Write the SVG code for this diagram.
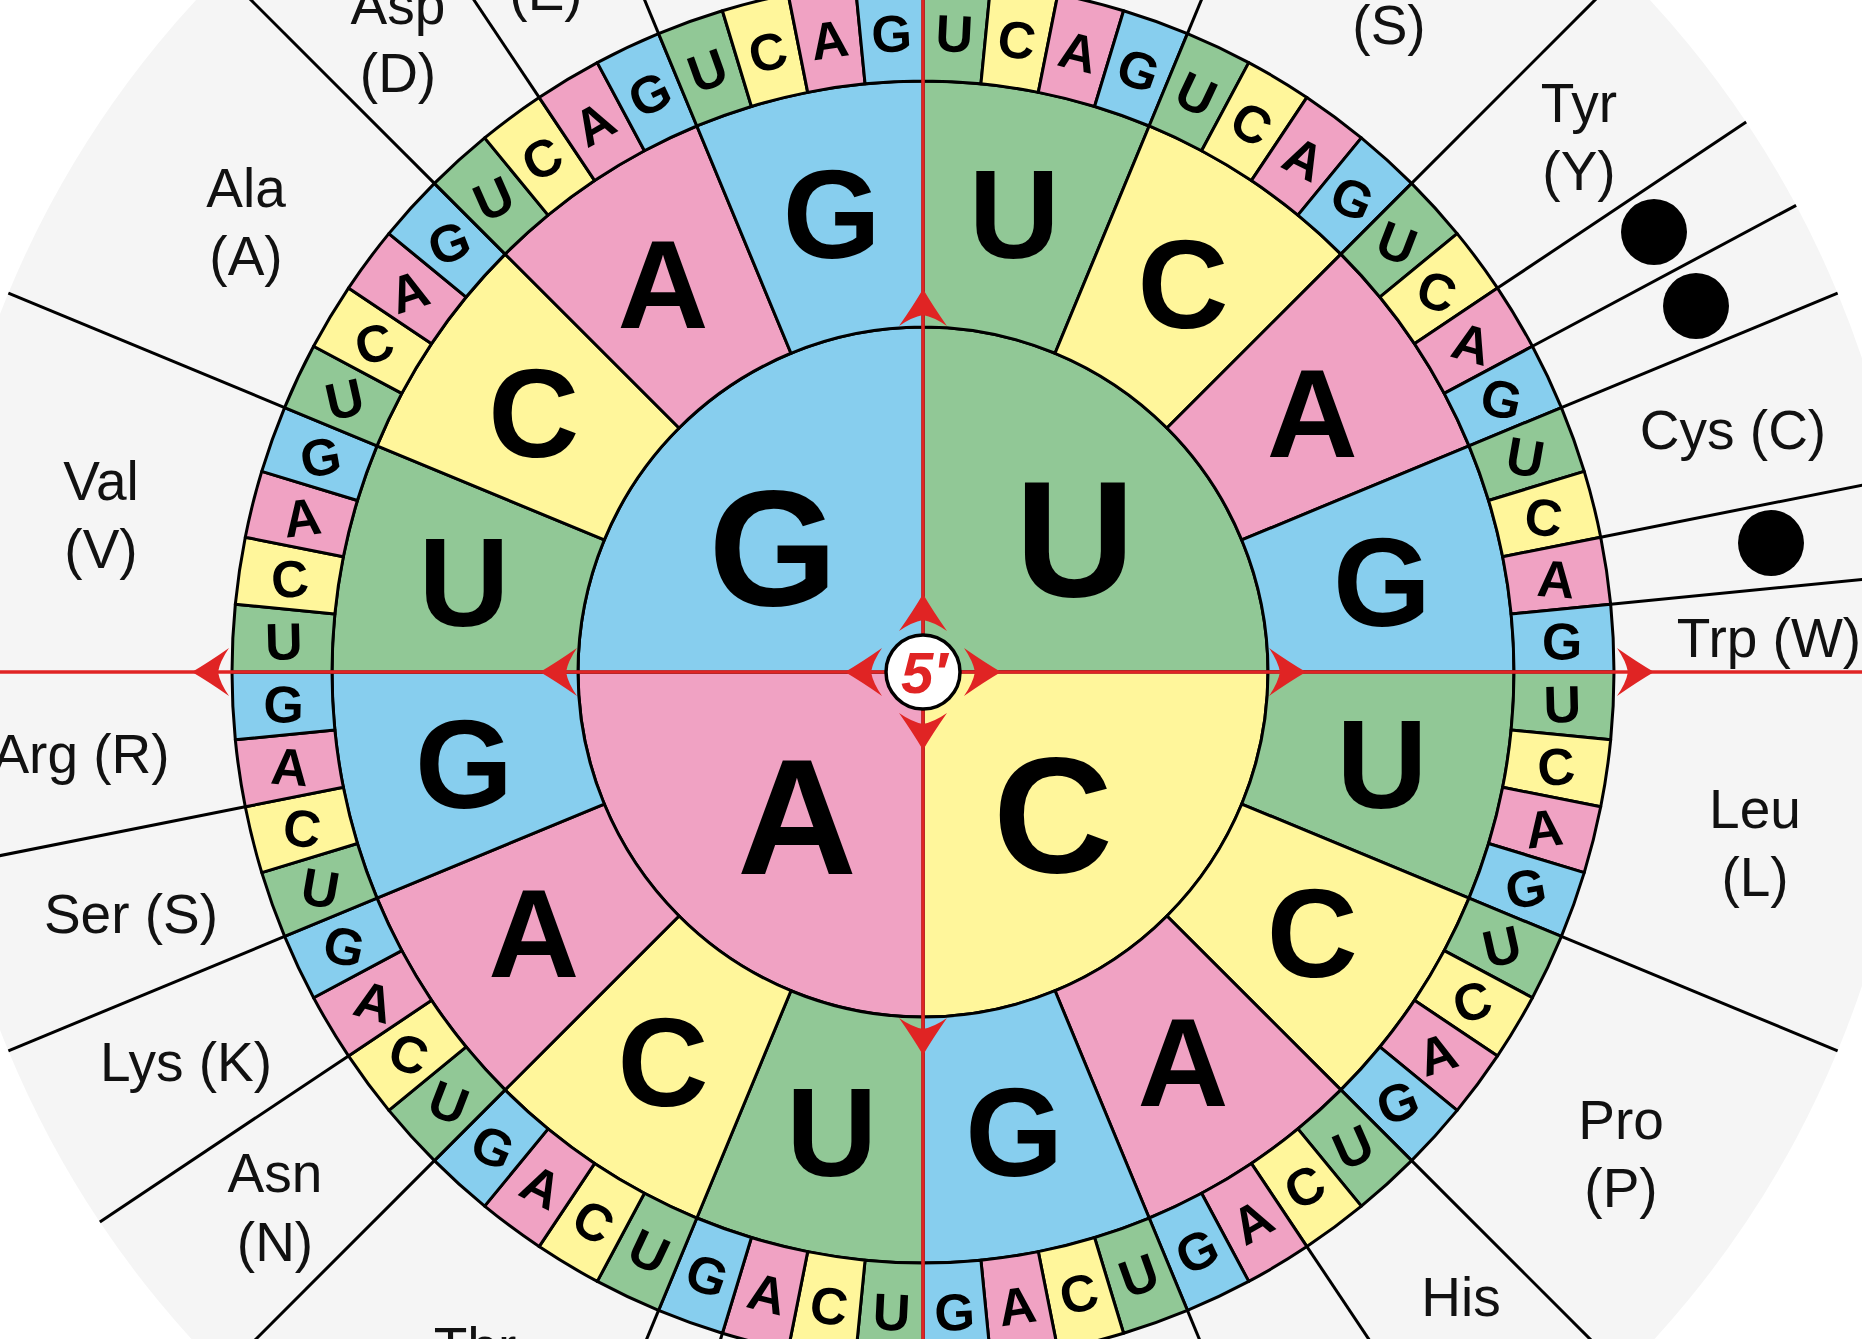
<svg xmlns="http://www.w3.org/2000/svg" width="1862" height="1339" viewBox="0 0 1862 1339">
<defs>
<style>
.u{fill:#91c896}.c{fill:#fff69b}.a{fill:#f0a2c3}.g{fill:#87ceee}
.cell{stroke:#000;stroke-width:3;stroke-linejoin:round}
.o{font-family:"Liberation Sans",Arial,sans-serif;font-weight:bold;font-size:52px;text-anchor:middle;fill:#000}
.m{font-family:"Liberation Sans",Arial,sans-serif;font-weight:bold;font-size:126px;text-anchor:middle;fill:#000}
.i{font-family:"Liberation Sans",Arial,sans-serif;font-weight:bold;font-size:166px;text-anchor:middle;fill:#000}
.lab{font-family:"Liberation Sans",Arial,sans-serif;font-size:55px;text-anchor:middle;fill:#111}
.spoke{stroke:#000;stroke-width:3}
.red{stroke:#e02424;stroke-width:3.5;fill:none}
.arrow{fill:#e02424}
</style>
<path id="q" d="M0,0 L0,-345 A345,345 0 0 1 345,0 Z"/>
<path id="w2" d="M0,-591 A591,591 0 0 1 226.17,-546.01 L132.03,-318.74 A345,345 0 0 0 0,-345 Z"/>
<path id="w3" d="M0,-691 A691,691 0 0 1 67.73,-687.67 L57.93,-588.15 A591,591 0 0 0 0,-591 Z"/>
<line id="sp" x1="0" y1="-691" x2="0" y2="-990"/>
<path id="arr" d="M0,0 Q10,17 24,37 Q11,28 0,26 Q-11,28 -24,37 Q-10,17 0,0 Z"/>
</defs>
<rect width="1862" height="1339" fill="#fff"/>
<circle cx="923" cy="672" r="990" fill="#f5f5f5"/>
<g transform="translate(923,672)">
<g id="spokes" class="spoke">
<use href="#sp" transform="rotate(22.5)"/><use href="#sp" transform="rotate(45)"/><use href="#sp" transform="rotate(56.25)"/><use href="#sp" transform="rotate(61.875)"/><use href="#sp" transform="rotate(67.5)"/><use href="#sp" transform="rotate(78.75)"/><use href="#sp" transform="rotate(84.375)"/><use href="#sp" transform="rotate(112.5)"/><use href="#sp" transform="rotate(135)"/><use href="#sp" transform="rotate(146.25)"/><use href="#sp" transform="rotate(157.5)"/><use href="#sp" transform="rotate(196.875)"/><use href="#sp" transform="rotate(202.5)"/><use href="#sp" transform="rotate(225)"/><use href="#sp" transform="rotate(236.25)"/><use href="#sp" transform="rotate(247.5)"/><use href="#sp" transform="rotate(258.75)"/><use href="#sp" transform="rotate(292.5)"/><use href="#sp" transform="rotate(315)"/><use href="#sp" transform="rotate(326.25)"/><use href="#sp" transform="rotate(337.5)"/>
</g>
<g id="ring-first-base">
<use href="#q" class="cell u"/><use href="#q" class="cell c" transform="rotate(90)"/><use href="#q" class="cell a" transform="rotate(180)"/><use href="#q" class="cell g" transform="rotate(270)"/>
</g>
<g id="ring-second-base">
<use href="#w2" class="cell u"/><use href="#w2" class="cell c" transform="rotate(22.5)"/><use href="#w2" class="cell a" transform="rotate(45)"/><use href="#w2" class="cell g" transform="rotate(67.5)"/>
<use href="#w2" class="cell u" transform="rotate(90)"/><use href="#w2" class="cell c" transform="rotate(112.5)"/><use href="#w2" class="cell a" transform="rotate(135)"/><use href="#w2" class="cell g" transform="rotate(157.5)"/>
<use href="#w2" class="cell u" transform="rotate(180)"/><use href="#w2" class="cell c" transform="rotate(202.5)"/><use href="#w2" class="cell a" transform="rotate(225)"/><use href="#w2" class="cell g" transform="rotate(247.5)"/>
<use href="#w2" class="cell u" transform="rotate(270)"/><use href="#w2" class="cell c" transform="rotate(292.5)"/><use href="#w2" class="cell a" transform="rotate(315)"/><use href="#w2" class="cell g" transform="rotate(337.5)"/>
</g>
<g id="ring-third-base">
<use href="#w3" class="cell u"/><use href="#w3" class="cell c" transform="rotate(5.625)"/><use href="#w3" class="cell a" transform="rotate(11.25)"/><use href="#w3" class="cell g" transform="rotate(16.875)"/>
<use href="#w3" class="cell u" transform="rotate(22.5)"/><use href="#w3" class="cell c" transform="rotate(28.125)"/><use href="#w3" class="cell a" transform="rotate(33.75)"/><use href="#w3" class="cell g" transform="rotate(39.375)"/>
<use href="#w3" class="cell u" transform="rotate(45)"/><use href="#w3" class="cell c" transform="rotate(50.625)"/><use href="#w3" class="cell a" transform="rotate(56.25)"/><use href="#w3" class="cell g" transform="rotate(61.875)"/>
<use href="#w3" class="cell u" transform="rotate(67.5)"/><use href="#w3" class="cell c" transform="rotate(73.125)"/><use href="#w3" class="cell a" transform="rotate(78.75)"/><use href="#w3" class="cell g" transform="rotate(84.375)"/>
<use href="#w3" class="cell u" transform="rotate(90)"/><use href="#w3" class="cell c" transform="rotate(95.625)"/><use href="#w3" class="cell a" transform="rotate(101.25)"/><use href="#w3" class="cell g" transform="rotate(106.875)"/>
<use href="#w3" class="cell u" transform="rotate(112.5)"/><use href="#w3" class="cell c" transform="rotate(118.125)"/><use href="#w3" class="cell a" transform="rotate(123.75)"/><use href="#w3" class="cell g" transform="rotate(129.375)"/>
<use href="#w3" class="cell u" transform="rotate(135)"/><use href="#w3" class="cell c" transform="rotate(140.625)"/><use href="#w3" class="cell a" transform="rotate(146.25)"/><use href="#w3" class="cell g" transform="rotate(151.875)"/>
<use href="#w3" class="cell u" transform="rotate(157.5)"/><use href="#w3" class="cell c" transform="rotate(163.125)"/><use href="#w3" class="cell a" transform="rotate(168.75)"/><use href="#w3" class="cell g" transform="rotate(174.375)"/>
<use href="#w3" class="cell u" transform="rotate(180)"/><use href="#w3" class="cell c" transform="rotate(185.625)"/><use href="#w3" class="cell a" transform="rotate(191.25)"/><use href="#w3" class="cell g" transform="rotate(196.875)"/>
<use href="#w3" class="cell u" transform="rotate(202.5)"/><use href="#w3" class="cell c" transform="rotate(208.125)"/><use href="#w3" class="cell a" transform="rotate(213.75)"/><use href="#w3" class="cell g" transform="rotate(219.375)"/>
<use href="#w3" class="cell u" transform="rotate(225)"/><use href="#w3" class="cell c" transform="rotate(230.625)"/><use href="#w3" class="cell a" transform="rotate(236.25)"/><use href="#w3" class="cell g" transform="rotate(241.875)"/>
<use href="#w3" class="cell u" transform="rotate(247.5)"/><use href="#w3" class="cell c" transform="rotate(253.125)"/><use href="#w3" class="cell a" transform="rotate(258.75)"/><use href="#w3" class="cell g" transform="rotate(264.375)"/>
<use href="#w3" class="cell u" transform="rotate(270)"/><use href="#w3" class="cell c" transform="rotate(275.625)"/><use href="#w3" class="cell a" transform="rotate(281.25)"/><use href="#w3" class="cell g" transform="rotate(286.875)"/>
<use href="#w3" class="cell u" transform="rotate(292.5)"/><use href="#w3" class="cell c" transform="rotate(298.125)"/><use href="#w3" class="cell a" transform="rotate(303.75)"/><use href="#w3" class="cell g" transform="rotate(309.375)"/>
<use href="#w3" class="cell u" transform="rotate(315)"/><use href="#w3" class="cell c" transform="rotate(320.625)"/><use href="#w3" class="cell a" transform="rotate(326.25)"/><use href="#w3" class="cell g" transform="rotate(331.875)"/>
<use href="#w3" class="cell u" transform="rotate(337.5)"/><use href="#w3" class="cell c" transform="rotate(343.125)"/><use href="#w3" class="cell a" transform="rotate(348.75)"/><use href="#w3" class="cell g" transform="rotate(354.375)"/>
</g>
<g id="axes">
<line class="red" x1="-923" y1="0" x2="939" y2="0"/>
<line class="red" x1="0" y1="-672" x2="0" y2="667"/>
<g class="arrow">
<use href="#arr" transform="translate(0,-78)"/><use href="#arr" transform="rotate(90) translate(0,-78)"/><use href="#arr" transform="rotate(180) translate(0,-78)"/><use href="#arr" transform="rotate(270) translate(0,-78)"/>
<use href="#arr" transform="translate(0,-383)"/><use href="#arr" transform="rotate(90) translate(0,-383)"/><use href="#arr" transform="rotate(180) translate(0,-383)"/><use href="#arr" transform="rotate(270) translate(0,-383)"/>
<use href="#arr" transform="rotate(90) translate(0,-731)"/><use href="#arr" transform="rotate(270) translate(0,-731)"/>
</g>
</g>
<g id="letters-first-base" class="i">
<text x="-150" y="-67">G</text><text x="152" y="-76">U</text><text x="-126" y="202">A</text><text x="130" y="200">C</text>
</g>
<g id="letters-second-base" class="m">
<g transform="rotate(11.25) translate(0,-468) rotate(-11.25)"><text y="45">U</text></g>
<g transform="rotate(33.75) translate(0,-468) rotate(-33.75)"><text y="45">C</text></g>
<g transform="rotate(56.25) translate(0,-468) rotate(-56.25)"><text y="45">A</text></g>
<g transform="rotate(78.75) translate(0,-468) rotate(-78.75)"><text y="45">G</text></g>
<g transform="rotate(101.25) translate(0,-468) rotate(-101.25)"><text y="45">U</text></g>
<g transform="rotate(123.75) translate(0,-468) rotate(-123.75)"><text y="45">C</text></g>
<g transform="rotate(146.25) translate(0,-468) rotate(-146.25)"><text y="45">A</text></g>
<g transform="rotate(168.75) translate(0,-468) rotate(-168.75)"><text y="45">G</text></g>
<g transform="rotate(191.25) translate(0,-468) rotate(-191.25)"><text y="45">U</text></g>
<g transform="rotate(213.75) translate(0,-468) rotate(-213.75)"><text y="45">C</text></g>
<g transform="rotate(236.25) translate(0,-468) rotate(-236.25)"><text y="45">A</text></g>
<g transform="rotate(258.75) translate(0,-468) rotate(-258.75)"><text y="45">G</text></g>
<g transform="rotate(281.25) translate(0,-468) rotate(-281.25)"><text y="45">U</text></g>
<g transform="rotate(303.75) translate(0,-468) rotate(-303.75)"><text y="45">C</text></g>
<g transform="rotate(326.25) translate(0,-468) rotate(-326.25)"><text y="45">A</text></g>
<g transform="rotate(348.75) translate(0,-468) rotate(-348.75)"><text y="45">G</text></g>
</g>
<g id="letters-third-base" class="o">
<g transform="rotate(2.8125) translate(0,-640)"><text y="19">U</text></g>
<g transform="rotate(8.4375) translate(0,-640)"><text y="19">C</text></g>
<g transform="rotate(14.0625) translate(0,-640)"><text y="19">A</text></g>
<g transform="rotate(19.6875) translate(0,-640)"><text y="19">G</text></g>
<g transform="rotate(25.3125) translate(0,-640)"><text y="19">U</text></g>
<g transform="rotate(30.9375) translate(0,-640) rotate(-1.41)"><text y="19">C</text></g>
<g transform="rotate(36.5625) translate(0,-640) rotate(-9.84)"><text y="19">A</text></g>
<g transform="rotate(42.1875) translate(0,-640) rotate(-18.28)"><text y="19">G</text></g>
<g transform="rotate(47.8125) translate(0,-640) rotate(-26.72)"><text y="19">U</text></g>
<g transform="rotate(53.4375) translate(0,-640) rotate(-35.16)"><text y="19">C</text></g>
<g transform="rotate(59.0625) translate(0,-640) rotate(-43.59)"><text y="19">A</text></g>
<g transform="rotate(64.6875) translate(0,-640) rotate(-52.03)"><text y="19">G</text></g>
<g transform="rotate(70.3125) translate(0,-640) rotate(-60.47)"><text y="19">U</text></g>
<g transform="rotate(75.9375) translate(0,-640) rotate(-68.91)"><text y="19">C</text></g>
<g transform="rotate(81.5625) translate(0,-640) rotate(-77.34)"><text y="19">A</text></g>
<g transform="rotate(87.1875) translate(0,-640) rotate(-85.78)"><text y="19">G</text></g>
<g transform="rotate(92.8125) translate(0,-640) rotate(-94.22)"><text y="19">U</text></g>
<g transform="rotate(98.4375) translate(0,-640) rotate(-102.66)"><text y="19">C</text></g>
<g transform="rotate(104.0625) translate(0,-640) rotate(-111.09)"><text y="19">A</text></g>
<g transform="rotate(109.6875) translate(0,-640) rotate(-119.53)"><text y="19">G</text></g>
<g transform="rotate(115.3125) translate(0,-640) rotate(-127.97)"><text y="19">U</text></g>
<g transform="rotate(120.9375) translate(0,-640) rotate(-136.41)"><text y="19">C</text></g>
<g transform="rotate(126.5625) translate(0,-640) rotate(-144.84)"><text y="19">A</text></g>
<g transform="rotate(132.1875) translate(0,-640) rotate(-153.28)"><text y="19">G</text></g>
<g transform="rotate(137.8125) translate(0,-640) rotate(-161.72)"><text y="19">U</text></g>
<g transform="rotate(143.4375) translate(0,-640) rotate(-170.16)"><text y="19">C</text></g>
<g transform="rotate(149.0625) translate(0,-640) rotate(-178.59)"><text y="19">A</text></g>
<g transform="rotate(154.6875) translate(0,-640) rotate(180)"><text y="19">G</text></g>
<g transform="rotate(160.3125) translate(0,-640) rotate(180)"><text y="19">U</text></g>
<g transform="rotate(165.9375) translate(0,-640) rotate(180)"><text y="19">C</text></g>
<g transform="rotate(171.5625) translate(0,-640) rotate(180)"><text y="19">A</text></g>
<g transform="rotate(177.1875) translate(0,-640) rotate(180)"><text y="19">G</text></g>
<g transform="rotate(182.8125) translate(0,-640) rotate(180)"><text y="19">U</text></g>
<g transform="rotate(188.4375) translate(0,-640) rotate(180)"><text y="19">C</text></g>
<g transform="rotate(194.0625) translate(0,-640) rotate(180)"><text y="19">A</text></g>
<g transform="rotate(199.6875) translate(0,-640) rotate(180)"><text y="19">G</text></g>
<g transform="rotate(205.3125) translate(0,-640) rotate(180)"><text y="19">U</text></g>
<g transform="rotate(210.9375) translate(0,-640) rotate(178.59)"><text y="19">C</text></g>
<g transform="rotate(216.5625) translate(0,-640) rotate(170.16)"><text y="19">A</text></g>
<g transform="rotate(222.1875) translate(0,-640) rotate(161.72)"><text y="19">G</text></g>
<g transform="rotate(227.8125) translate(0,-640) rotate(153.28)"><text y="19">U</text></g>
<g transform="rotate(233.4375) translate(0,-640) rotate(144.84)"><text y="19">C</text></g>
<g transform="rotate(239.0625) translate(0,-640) rotate(136.41)"><text y="19">A</text></g>
<g transform="rotate(244.6875) translate(0,-640) rotate(127.97)"><text y="19">G</text></g>
<g transform="rotate(250.3125) translate(0,-640) rotate(119.53)"><text y="19">U</text></g>
<g transform="rotate(255.9375) translate(0,-640) rotate(111.09)"><text y="19">C</text></g>
<g transform="rotate(261.5625) translate(0,-640) rotate(102.66)"><text y="19">A</text></g>
<g transform="rotate(267.1875) translate(0,-640) rotate(94.22)"><text y="19">G</text></g>
<g transform="rotate(272.8125) translate(0,-640) rotate(85.78)"><text y="19">U</text></g>
<g transform="rotate(278.4375) translate(0,-640) rotate(77.34)"><text y="19">C</text></g>
<g transform="rotate(284.0625) translate(0,-640) rotate(68.91)"><text y="19">A</text></g>
<g transform="rotate(289.6875) translate(0,-640) rotate(60.47)"><text y="19">G</text></g>
<g transform="rotate(295.3125) translate(0,-640) rotate(52.03)"><text y="19">U</text></g>
<g transform="rotate(300.9375) translate(0,-640) rotate(43.59)"><text y="19">C</text></g>
<g transform="rotate(306.5625) translate(0,-640) rotate(35.16)"><text y="19">A</text></g>
<g transform="rotate(312.1875) translate(0,-640) rotate(26.72)"><text y="19">G</text></g>
<g transform="rotate(317.8125) translate(0,-640) rotate(18.28)"><text y="19">U</text></g>
<g transform="rotate(323.4375) translate(0,-640) rotate(9.84)"><text y="19">C</text></g>
<g transform="rotate(329.0625) translate(0,-640) rotate(1.41)"><text y="19">A</text></g>
<g transform="rotate(334.6875) translate(0,-640)"><text y="19">G</text></g>
<g transform="rotate(340.3125) translate(0,-640)"><text y="19">U</text></g>
<g transform="rotate(345.9375) translate(0,-640)"><text y="19">C</text></g>
<g transform="rotate(351.5625) translate(0,-640)"><text y="19">A</text></g>
<g transform="rotate(357.1875) translate(0,-640)"><text y="19">G</text></g>
</g>
<g id="five-prime">
<circle r="37" fill="#fff" stroke="#000" stroke-width="3.5"/>
<text x="1" y="21" font-family="Liberation Sans, Arial, sans-serif" font-weight="bold" font-style="italic" font-size="58" text-anchor="middle" fill="#e02424">5′</text>
</g>
</g>
<g id="labels" class="lab">
<g id="lab-asp"><text x="398" y="24">Asp</text><text x="398" y="92">(D)</text></g>
<g id="lab-glu"><text x="546" y="10">(E)</text></g>
<g id="lab-ser-uc"><text x="1389" y="44">(S)</text></g>
<g id="lab-tyr"><text x="1579" y="122">Tyr</text><text x="1579" y="190">(Y)</text></g>
<g id="stop-uaa"><circle cx="1654" cy="232" r="33" fill="#000"/></g>
<g id="stop-uag"><circle cx="1696" cy="306" r="33" fill="#000"/></g>
<g id="lab-cys"><text x="1733" y="449">Cys (C)</text></g>
<g id="stop-uga"><circle cx="1771" cy="543" r="33" fill="#000"/></g>
<g id="lab-trp"><text x="1769" y="657">Trp (W)</text></g>
<g id="lab-leu"><text x="1755" y="828">Leu</text><text x="1755" y="896">(L)</text></g>
<g id="lab-pro"><text x="1621" y="1139">Pro</text><text x="1621" y="1207">(P)</text></g>
<g id="lab-his"><text x="1461" y="1316">His</text></g>
<g id="lab-thr"><text x="475" y="1366">Thr</text></g>
<g id="lab-asn"><text x="275" y="1192">Asn</text><text x="275" y="1261">(N)</text></g>
<g id="lab-lys"><text x="186" y="1081">Lys (K)</text></g>
<g id="lab-ser-ag"><text x="131" y="933">Ser (S)</text></g>
<g id="lab-arg"><text x="81" y="773">Arg (R)</text></g>
<g id="lab-val"><text x="101" y="500">Val</text><text x="101" y="568">(V)</text></g>
<g id="lab-ala"><text x="246" y="207">Ala</text><text x="246" y="275">(A)</text></g>
</g>
</svg>
